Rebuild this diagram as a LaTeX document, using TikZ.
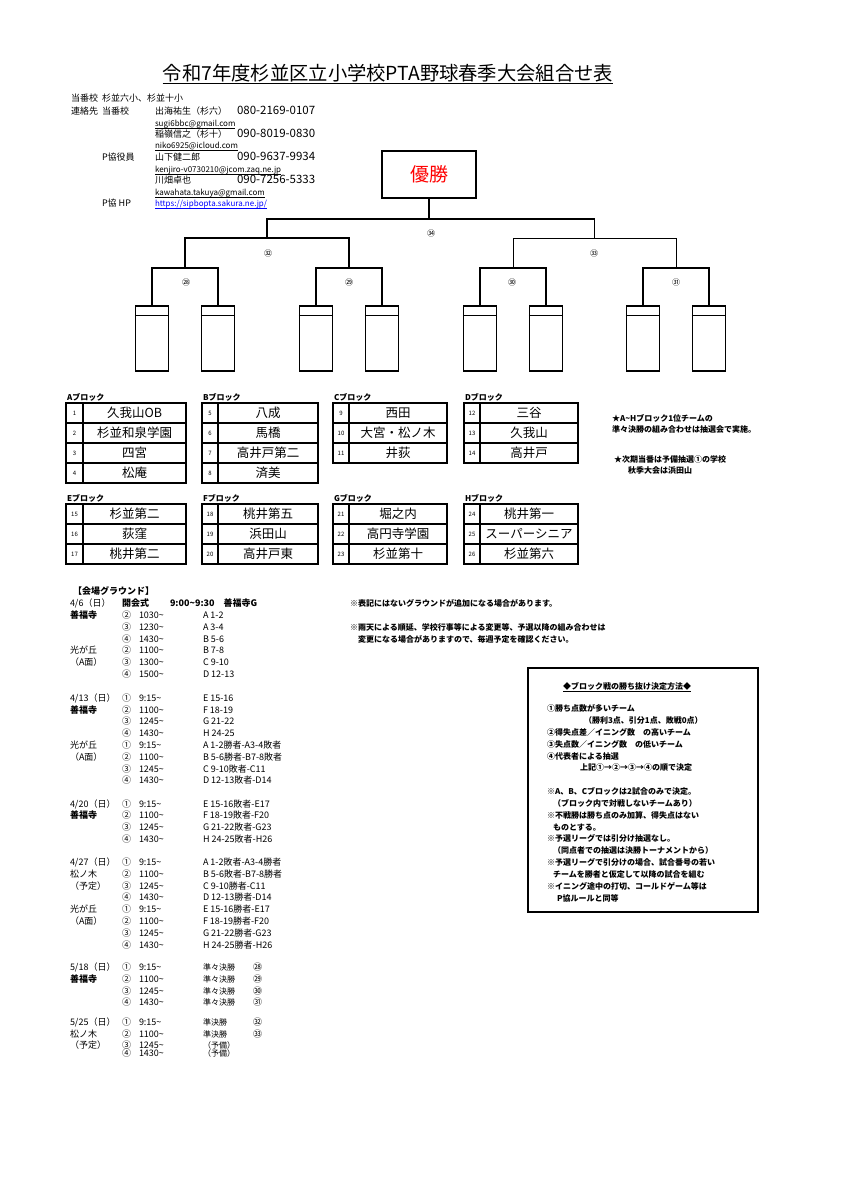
\documentclass[tikz,border=0pt]{standalone}
\usepackage{fontspec}
\setmainfont{Noto Sans CJK JP}
\newcommand\fs[1]{\fontsize{#1}{#1}\selectfont}
\newcommand\tld{\textasciitilde}
\tikzset{
  tx/.style={anchor=base west, inner sep=0pt, outer sep=0pt, font=\fs{9}},
  txb/.style={tx, font=\fs{9}\bfseries},
  hd/.style={tx, font=\fs{9}},
  ph/.style={tx, font=\fs{11.5}},
  em/.style={tx, font=\fs{8}},
  bx/.style={tx, font=\fs{8}\bfseries},
  blab/.style={tx, font=\fs{8}\bfseries},
  slot/.style={draw, line width=1.3pt, minimum width=33pt, minimum height=65pt, inner sep=0pt},
  ncell/.style={draw, line width=1.3pt, minimum height=20pt, inner sep=0pt, font=\fs{6}},
  tcell/.style={draw, line width=1.3pt, minimum height=20pt, inner sep=0pt, font=\fs{12.5}},
  br/.style={line width=1.5pt},
  brthin/.style={line width=0.8pt},
  rnd/.style={inner sep=0pt, font=\fs{8}},
  uline/.style={line width=0.5pt}
}
% team row: x0, xdivider, x1, ytop, number, team
\newcommand\trow[6]{%
  \node[ncell, minimum width={#2pt-#1pt}] (n#5) at ({(#1+#2)/2},{#4+10}) {#5};
  \node[tcell, minimum width={#3pt-#2pt}] (t#5) at ({(#2+#3)/2},{#4+10}) {#6};
}
% schedule row: y, col1, circled, time, match
\newcommand\srow[5]{%
  \node[tx] (a#1) at (70,{#1+3.4}) {#2};
  \node[tx] (b#1) at (122,{#1+3.4}) {#3};
  \node[tx] (c#1) at (139,{#1+3.4}) {#4};
  \node[tx] (e#1) at (203,{#1+3.4}) {#5};
}
\begin{document}
\begin{tikzpicture}[x=1pt,y=-1pt]
\fill[white] (0,0) rectangle (842,1191);
\useasboundingbox (0,0) rectangle (842,1191);

% ---------- title ----------
\node[anchor=base, inner sep=0pt, font=\fs{19.3}] (title) at (388,80) {令和7年度杉並区立小学校PTA野球春季大会組合せ表};
\draw[line width=1pt] ([yshift=-3.5pt]title.base west) -- ([yshift=-3.5pt]title.base east);

% ---------- contacts ----------
\node[hd] (h1) at (71,101.5) {当番校};
\node[hd] (h2) at (102,101.5) {杉並六小、杉並十小};
\node[hd] (h3) at (71,114.5) {連絡先};
\node[hd] (h4) at (102,114.5) {当番校};
\node[hd] (h5) at (155,114.5) {出海祐生（杉六）};
\node[ph] (p1) at (237,114.5) {080-2169-0107};
\node[em] (m1) at (155,126) {sugi6bbc@gmail.com};
\node[hd] (h6) at (155,137.5) {稲嶺信之（杉十）};
\node[ph] (p2) at (237,137.5) {090-8019-0830};
\node[em] (m2) at (155,148.5) {niko6925@icloud.com};
\node[hd] (h7) at (102,160) {P協役員};
\node[hd] (h8) at (155,160) {山下健二郎};
\node[ph] (p3) at (237,160) {090-9637-9934};
\node[em] (m3) at (155,172) {kenjiro-v0730210@jcom.zaq.ne.jp};
\node[hd] (h9) at (155,183.5) {川畑卓也};
\node[ph] (p4) at (237,183.5) {090-7256-5333};
\node[em] (m4) at (155,195) {kawahata.takuya@gmail.com};
\node[hd] (h10) at (102,206.5) {P協 HP};
\node[em, text=blue] (m5) at (155,206.5) {https://sipbopta.sakura.ne.jp/};
\foreach \m in {m1,m2,m3,m4}
  \draw[uline] ([yshift=-1.8pt]\m.base west) -- ([yshift=-1.8pt]\m.base east);
\draw[uline, blue] ([yshift=-1.8pt]m5.base west) -- ([yshift=-1.8pt]m5.base east);

% ---------- bracket ----------
\node[draw, line width=2pt, minimum width=94pt, minimum height=47pt, inner sep=0pt, text=red, font=\fs{19}] (champ) at (429,174.5) {優勝};
\foreach \i/\x in {1/152,2/218,3/316,4/382,5/480,6/546,7/643,8/709}{
  \node[slot] (s\i) at (\x,338.5) {};
  \draw[line width=1.3pt] ([yshift=-10pt]s\i.north west) -- ([yshift=-10pt]s\i.north east);
}
\coordinate (q1) at (185,268);
\coordinate (q2) at (349,268);
\coordinate (q3) at (513,268);
\coordinate (q4) at (676,268);
\coordinate (h1) at (267,238);
\coordinate (h2) at (594.5,238);
\coordinate (top) at (429,219);
\draw[br] (s1.north) -- (s1.north |- q1) -- (s2.north |- q1) -- (s2.north);
\draw[br] (s3.north) -- (s3.north |- q2) -- (s4.north |- q2) -- (s4.north);
\draw[br] (s5.north) -- (s5.north |- q3) -- (s6.north |- q3) -- (s6.north);
\draw[br] (s7.north) -- (s7.north |- q4) -- (s8.north |- q4) -- (s8.north);
\draw[br] (q1) -- (q1 |- h1) -- (q2 |- h1) -- (q2);
\draw[brthin] (q3) -- (q3 |- h2) -- (q4 |- h2) -- (q4);
\draw[br] (h1) -- (h1 |- top) -- (h2 |- top) -- (h2);
\draw[br] (champ.south) -- (top);
\node[rnd] (r34) at (431,233) {㉞};
\node[rnd] (r32) at (268,253) {㉜};
\node[rnd] (r33) at (594,253) {㉝};
\node[rnd] (r28) at (186,282) {㉘};
\node[rnd] (r29) at (349,282) {㉙};
\node[rnd] (r30) at (512,282) {㉚};
\node[rnd] (r31) at (676,282) {㉛};

% ---------- blocks ----------
\node[blab] (lA) at (67,400.5) {Aブロック};
\node[blab] (lB) at (203,400.5) {Bブロック};
\node[blab] (lC) at (334,400.5) {Cブロック};
\node[blab] (lD) at (465,400.5) {Dブロック};
\trow{66}{83}{186}{403}{1}{久我山OB}
\trow{66}{83}{186}{423}{2}{杉並和泉学園}
\trow{66}{83}{186}{443}{3}{四宮}
\trow{66}{83}{186}{463}{4}{松庵}
\trow{202}{218}{318}{403}{5}{八成}
\trow{202}{218}{318}{423}{6}{馬橋}
\trow{202}{218}{318}{443}{7}{高井戸第二}
\trow{202}{218}{318}{463}{8}{済美}
\trow{333}{349}{447}{403}{9}{西田}
\trow{333}{349}{447}{423}{10}{大宮・松ノ木}
\trow{333}{349}{447}{443}{11}{井荻}
\trow{464}{480}{578}{403}{12}{三谷}
\trow{464}{480}{578}{423}{13}{久我山}
\trow{464}{480}{578}{443}{14}{高井戸}

\node[blab] (lE) at (67,501.5) {Eブロック};
\node[blab] (lF) at (203,501.5) {Fブロック};
\node[blab] (lG) at (334,501.5) {Gブロック};
\node[blab] (lH) at (465,501.5) {Hブロック};
\trow{66}{83}{186}{504}{15}{杉並第二}
\trow{66}{83}{186}{524}{16}{荻窪}
\trow{66}{83}{186}{544}{17}{桃井第二}
\trow{202}{218}{318}{504}{18}{桃井第五}
\trow{202}{218}{318}{524}{19}{浜田山}
\trow{202}{218}{318}{544}{20}{高井戸東}
\trow{333}{349}{447}{504}{21}{堀之内}
\trow{333}{349}{447}{524}{22}{高円寺学園}
\trow{333}{349}{447}{544}{23}{杉並第十}
\trow{464}{480}{578}{504}{24}{桃井第一}
\trow{464}{480}{578}{524}{25}{スーパーシニア}
\trow{464}{480}{578}{544}{26}{杉並第六}

\node[bx] (k1) at (612,421) {★A\tld Hブロック1位チームの};
\node[bx] (k2) at (612,432.5) {準々決勝の組み合わせは抽選会で実施。};
\node[bx] (k3) at (614,462) {★次期当番は予備抽選①の学校};
\node[bx] (k4) at (628,473.5) {秋季大会は浜田山};

% ---------- schedule ----------
\node[txb] (g0) at (73,594) {【会場グラウンド】};
\node[tx] (a603) at (70,606.4) {4/6（日）};
\node[txb] (o1) at (122,606.4) {開会式};
\node[txb] (o2) at (170,606.4) {9:00\tld 9:30　善福寺G};
\srow{615}{\textbf{善福寺}}{②}{1030\tld}{A 1-2}
\srow{627}{}{③}{1230\tld}{A 3-4}
\srow{639}{}{④}{1430\tld}{B 5-6}
\srow{650.5}{光が丘}{②}{1100\tld}{B 7-8}
\srow{662}{（A面）}{③}{1300\tld}{C 9-10}
\srow{674}{}{④}{1500\tld}{D 12-13}

\srow{698}{4/13（日）}{①}{9:15\tld}{E 15-16}
\srow{710}{\textbf{善福寺}}{②}{1100\tld}{F 18-19}
\srow{721.5}{}{③}{1245\tld}{G 21-22}
\srow{733.5}{}{④}{1430\tld}{H 24-25}
\srow{745.5}{光が丘}{①}{9:15\tld}{A 1-2勝者-A3-4敗者}
\srow{757}{（A面）}{②}{1100\tld}{B 5-6勝者-B7-8敗者}
\srow{769}{}{③}{1245\tld}{C 9-10敗者-C11}
\srow{780.5}{}{④}{1430\tld}{D 12-13敗者-D14}

\srow{804}{4/20（日）}{①}{9:15\tld}{E 15-16敗者-E17}
\srow{815.5}{\textbf{善福寺}}{②}{1100\tld}{F 18-19敗者-F20}
\srow{827.5}{}{③}{1245\tld}{G 21-22敗者-G23}
\srow{839.5}{}{④}{1430\tld}{H 24-25敗者-H26}

\srow{862}{4/27（日）}{①}{9:15\tld}{A 1-2敗者-A3-4勝者}
\srow{874}{松ノ木}{②}{1100\tld}{B 5-6敗者-B7-8勝者}
\srow{886}{（予定）}{③}{1245\tld}{C 9-10勝者-C11}
\srow{897.5}{}{④}{1430\tld}{D 12-13勝者-D14}
\srow{909.5}{光が丘}{①}{9:15\tld}{E 15-16勝者-E17}
\srow{921.5}{（A面）}{②}{1100\tld}{F 18-19勝者-F20}
\srow{933}{}{③}{1245\tld}{G 21-22勝者-G23}
\srow{945}{}{④}{1430\tld}{H 24-25勝者-H26}

\srow{967}{5/18（日）}{①}{9:15\tld}{\fs{8}準々決勝}
\srow{979}{\textbf{善福寺}}{②}{1100\tld}{\fs{8}準々決勝}
\srow{991}{}{③}{1245\tld}{\fs{8}準々決勝}
\srow{1002.5}{}{④}{1430\tld}{\fs{8}準々決勝}
\node[tx] (x28) at (253,970.4) {㉘};
\node[tx] (x29) at (253,982.4) {㉙};
\node[tx] (x30) at (253,994.4) {㉚};
\node[tx] (x31) at (253,1005.9) {㉛};

\srow{1022}{5/25（日）}{①}{9:15\tld}{\fs{8}準決勝}
\srow{1034}{松ノ木}{②}{1100\tld}{\fs{8}準決勝}
\srow{1045}{（予定）}{③}{1245\tld}{\fs{8}（予備）}
\srow{1053.5}{}{④}{1430\tld}{\fs{8}（予備）}
\node[tx] (x32) at (253,1025.4) {㉜};
\node[tx] (x33) at (253,1037.4) {㉝};

% ---------- notes ----------
\node[bx] (w1) at (350,606) {※表記にはないグラウンドが追加になる場合があります。};
\node[bx] (w2) at (350,630) {※雨天による順延、学校行事等による変更等、予選以降の組み合わせは};
\node[bx] (w3) at (358,642) {変更になる場合がありますので、毎週予定を確認ください。};

% ---------- rules box ----------
\node[draw, line width=2pt, minimum width=230pt, minimum height=244pt, inner sep=0pt] (rules) at (643,790) {};
\node[bx] (r0) at (563,689) {◆ブロック戦の勝ち抜け決定方法◆};
\draw[line width=0.6pt] ([yshift=-1.8pt]r0.base west) -- ([yshift=-1.8pt]r0.base east);
\node[bx] (r1) at (547,711) {①勝ち点数が多いチーム};
\node[bx] (r2) at (584,723) {（勝利3点、引分1点、敗戦0点）};
\node[bx] (r3) at (547,735) {②得失点差／イニング数　の高いチーム};
\node[bx] (r4) at (547,747) {③失点数／イニング数　の低いチーム};
\node[bx] (r5) at (547,759) {④代表者による抽選};
\node[bx] (r6) at (580,770.5) {上記①→②→③→④の順で決定};
\node[bx] (r7) at (547,794) {※A、B、Cブロックは2試合のみで決定。};
\node[bx] (r8) at (553,806) {（ブロック内で対戦しないチームあり）};
\node[bx] (r9) at (547,818) {※不戦勝は勝ち点のみ加算、得失点はない};
\node[bx] (r10) at (553,830) {ものとする。};
\node[bx] (r11) at (547,841.5) {※予選リーグでは引分け抽選なし。};
\node[bx] (r12) at (553,853.5) {（同点者での抽選は決勝トーナメントから）};
\node[bx] (r13) at (547,865.5) {※予選リーグで引分けの場合、試合番号の若い};
\node[bx] (r14) at (553,877.5) {チームを勝者と仮定して以降の試合を組む};
\node[bx] (r15) at (547,889) {※イニング途中の打切、コールドゲーム等は};
\node[bx] (r16) at (557,901) {P協ルールと同等};
\end{tikzpicture}
\end{document}
